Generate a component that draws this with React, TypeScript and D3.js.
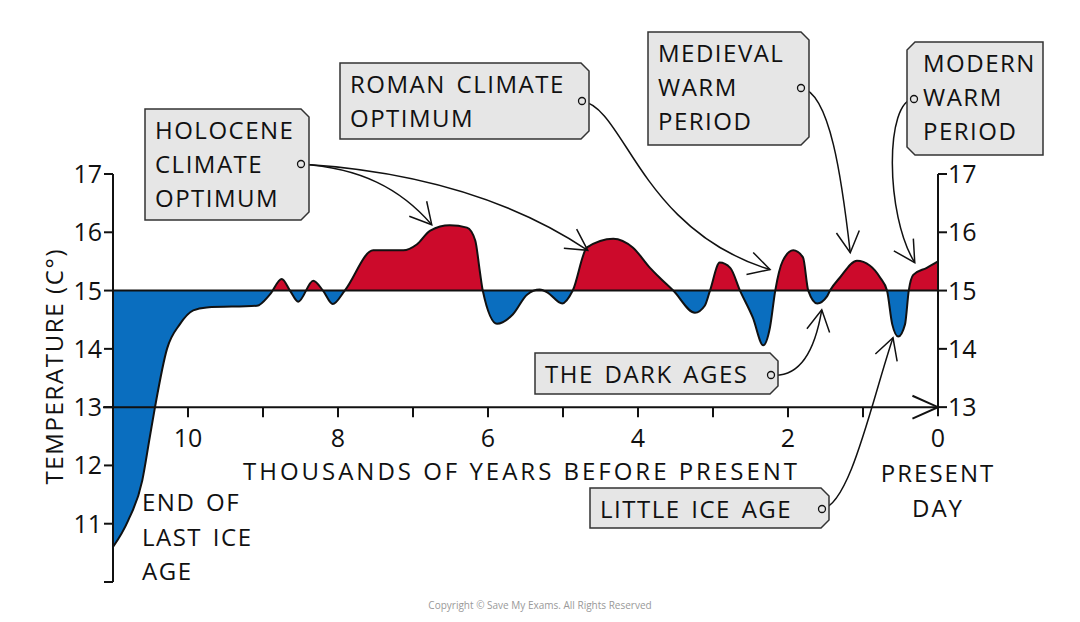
import * as d3 from "d3";

// thousands of years before present
const years = [
  11.0, 10.8, 10.61, 10.51, 10.44, 10.28, 10.11, 9.93, 9.75, 9.08, 8.91, 8.75, 8.64, 8.53, 8.33, 8.2, 8.07, 7.91,
  7.53, 7.13, 6.95, 6.77, 6.51, 6.28, 6.17, 6.11, 6.07, 5.88, 5.67, 5.48, 5.31, 5.21, 5.01, 4.87, 4.68, 4.33,
  4.07, 3.84, 3.71, 3.53, 3.24, 3.11, 3.04, 2.91, 2.77, 2.64, 2.47, 2.33, 2.24, 2.17, 2.07, 1.93, 1.8, 1.73,
  1.61, 1.48, 1.44, 1.31, 1.08, 0.91, 0.77, 0.68, 0.61, 0.53, 0.44, 0.39, 0.33, 0.15, 0.0,
];
// temperature (C)
const temps = [
  10.6, 11.05, 11.74, 12.48, 13.0, 14.0, 14.42, 14.66, 14.71, 14.74, 14.93, 15.2, 15.0, 14.81, 15.17, 15.0, 14.77, 15.0,
  15.69, 15.69, 15.79, 16.03, 16.12, 16.08, 15.86, 15.34, 15.0, 14.43, 14.59, 14.93, 15.02, 14.97, 14.78, 15.0, 15.74, 15.89,
  15.74, 15.39, 15.22, 15.0, 14.62, 14.74, 15.0, 15.48, 15.39, 15.0, 14.54, 14.06, 14.37, 15.0, 15.51, 15.69, 15.57, 15.0,
  14.78, 14.9, 15.0, 15.22, 15.51, 15.43, 15.22, 15.0, 14.42, 14.21, 14.42, 15.0, 15.27, 15.39, 15.5,
];

const xTicks = [10, 9, 8, 7, 6, 5, 4, 3, 2, 1];
const xTickLabels = [10, 8, 6, 4, 2, 0];
const leftTicks = [17, 16, 15, 14, 13, 12, 11];
const rightTicks = [17, 16, 15, 14, 13];
const baseline = 15;

// annotations: label box (pixels), arrow targets in data units
const notes = [
  { lines: ["HOLOCENE", "CLIMATE", "OPTIMUM"], box: [145, 109, 309, 220], side: "right", dot: [301, 164],
    arrows: [{ t: 6.75, T: 16.13, c1: [360, 168], c2: [400, 188] }, { t: 4.67, T: 15.69, c1: [430, 172], c2: [520, 205] }] },
  { lines: ["ROMAN CLIMATE", "OPTIMUM"], box: [340, 63, 589, 139], side: "right", dot: [582, 101],
    arrows: [{ t: 2.24, T: 15.36, c1: [625, 108], c2: [640, 230] }] },
  { lines: ["MEDIEVAL", "WARM", "PERIOD"], box: [648, 32, 809, 145], side: "right", dot: [801, 88],
    arrows: [{ t: 1.17, T: 15.65, c1: [830, 92], c2: [842, 180] }] },
  { lines: ["MODERN", "WARM", "PERIOD"], box: [907, 42, 1043, 155], side: "left", dot: [914, 99],
    arrows: [{ t: 0.31, T: 15.48, c1: [885, 100], c2: [885, 215] }] },
  { lines: ["THE DARK AGES"], box: [535, 353, 778, 394], side: "right", dot: [771, 375],
    arrows: [{ t: 1.55, T: 14.67, c1: [800, 378], c2: [815, 350] }] },
  { lines: ["LITTLE ICE AGE"], box: [590, 488, 829, 528], side: "right", dot: [822, 509],
    arrows: [{ t: 0.6, T: 14.19, c1: [850, 505], c2: [872, 400] }] },
];

const FONT = "'Open Sans', sans-serif";
const RED = "#cc0a2b";
const BLUE = "#0a6ebf";
const LS = 1.5; // letter spacing for label text
const WS = 3;

function tagPath([x0, y0, x1, y1], side, c = 8) {
  if (side === "left") {
    return `M${x0 + c},${y0}L${x1},${y0}L${x1},${y1}L${x0 + c},${y1}L${x0},${y1 - c}L${x0},${y0 + c}Z`;
  }
  return `M${x0},${y0}L${x1 - c},${y0}L${x1},${y0 + c}L${x1},${y1 - c}L${x1 - c},${y1}L${x0},${y1}Z`;
}

function arrowHead(tip, from, len = 24, ang = 0.5) {
  const a = Math.atan2(tip[1] - from[1], tip[0] - from[0]);
  const p1 = [tip[0] - len * Math.cos(a - ang), tip[1] - len * Math.sin(a - ang)];
  const p2 = [tip[0] - len * Math.cos(a + ang), tip[1] - len * Math.sin(a + ang)];
  return `M${p1[0]},${p1[1]}L${tip[0]},${tip[1]}L${p2[0]},${p2[1]}`;
}

export default function App() {
  const width = 1080;
  const height = 622;
  const x = d3.scaleLinear().domain([11, 0]).range([113, 938]);
  const y = d3.scaleLinear().domain([10, 17]).range([582, 174]);
  const data = years.map((t, i) => ({ t, T: temps[i] }));

  const area = d3
    .area()
    .x((d) => x(d.t))
    .y0(y(baseline))
    .y1((d) => y(d.T))
    .curve(d3.curveMonotoneX);
  const line = d3
    .line()
    .x((d) => x(d.t))
    .y((d) => y(d.T))
    .curve(d3.curveMonotoneX);

  const y15 = y(baseline);
  const y13 = y(13);
  const axisLeft = x(11);
  const axisRight = x(0);

  return (
    <svg
      width={width}
      height={height}
      style={{ position: "absolute", left: 0, top: 0, background: "#fff" }}
      fontFamily={FONT}
    >
      <defs>
        <clipPath id="above">
          <rect x={0} y={0} width={width} height={y15} />
        </clipPath>
        <clipPath id="below">
          <rect x={0} y={y15} width={width} height={height - y15} />
        </clipPath>
      </defs>

      {/* filled anomaly */}
      <path d={area(data)} fill={RED} clipPath="url(#above)" />
      <path d={area(data)} fill={BLUE} clipPath="url(#below)" />
      <path d={line(data)} fill="none" stroke="#111" strokeWidth={2} />
      <line x1={axisLeft} x2={axisRight} y1={y15} y2={y15} stroke="#111" strokeWidth={2} />

      {/* left axis */}
      <line x1={axisLeft} x2={axisLeft} y1={y(17)} y2={y(10)} stroke="#111" strokeWidth={2} />
      {[...leftTicks, 10].map((v) => (
        <g key={"l" + v} transform={`translate(${axisLeft},${y(v)})`}>
          <line x1={-9} x2={0} stroke="#111" strokeWidth={2} />
          {v !== 10 && (
            <text x={-11} dy="0.36em" textAnchor="end" fontSize={25} fill="#111">
              {v}
            </text>
          )}
        </g>
      ))}
      <text
        transform={`translate(63,367) rotate(-90)`}
        textAnchor="middle"
        fontSize={24}
        fill="#111"
        textLength={235}
        lengthAdjust="spacing"
      >
        TEMPERATURE (C°)
      </text>

      {/* right axis */}
      <line x1={axisRight} x2={axisRight} y1={y(17)} y2={y13 + 9} stroke="#111" strokeWidth={2} />
      {rightTicks.map((v) => (
        <g key={"r" + v} transform={`translate(${axisRight},${y(v)})`}>
          <line x1={0} x2={9} stroke="#111" strokeWidth={2} />
          <text x={10} dy="0.36em" textAnchor="start" fontSize={25} fill="#111">
            {v}
          </text>
        </g>
      ))}

      {/* bottom axis */}
      <line x1={103} x2={axisRight} y1={y13} y2={y13} stroke="#111" strokeWidth={2} />
      <path d={arrowHead([axisRight, y13], [axisRight - 10, y13], 28, 0.42)} fill="none" stroke="#111" strokeWidth={2} />
      {xTicks.map((t) => (
        <line key={"t" + t} x1={x(t)} x2={x(t)} y1={y13} y2={y13 + 10} stroke="#111" strokeWidth={2} />
      ))}
      {xTickLabels.map((t) => (
        <text key={"xl" + t} x={x(t)} y={y13 + 40} textAnchor="middle" fontSize={25} fill="#111">
          {t}
        </text>
      ))}
      <text x={520} y={480} textAnchor="middle" fontSize={24} fill="#111" textLength={554} lengthAdjust="spacing">
        THOUSANDS OF YEARS BEFORE PRESENT
      </text>
      <text x={axisRight} textAnchor="middle" fontSize={24} fill="#111" letterSpacing={2}>
        <tspan x={axisRight} y={482}>PRESENT</tspan>
        <tspan x={axisRight} y={517}>DAY</tspan>
      </text>
      <text fontSize={24} fill="#111" letterSpacing={LS} wordSpacing={WS}>
        <tspan x={142} y={511}>END OF</tspan>
        <tspan x={142} y={546}>LAST ICE</tspan>
        <tspan x={142} y={580}>AGE</tspan>
      </text>

      {/* annotations */}
      {notes.map((n, i) => {
        const [x0, y0] = n.box;
        const padX = n.side === "left" ? 16 : 10;
        return (
          <g key={"n" + i}>
            {n.arrows.map((a, j) => {
              const tip = [x(a.t), y(a.T)];
              return (
                <g key={j} fill="none" stroke="#111" strokeWidth={1.5}>
                  <path d={`M${n.dot[0]},${n.dot[1]}C${a.c1[0]},${a.c1[1]} ${a.c2[0]},${a.c2[1]} ${tip[0]},${tip[1]}`} />
                  <path d={arrowHead(tip, a.c2)} />
                </g>
              );
            })}
            <path d={tagPath(n.box, n.side)} fill="#e6e6e6" stroke="#333" strokeWidth={1.5} />
            <text fontSize={24} fill="#111" letterSpacing={LS} wordSpacing={WS}>
              {n.lines.map((s, k) => (
                <tspan key={k} x={x0 + padX} y={y0 + 30 + k * 34}>
                  {s}
                </tspan>
              ))}
            </text>
            <circle cx={n.dot[0]} cy={n.dot[1]} r={3.5} fill="#e6e6e6" stroke="#111" strokeWidth={1.3} />
          </g>
        );
      })}

      <text x={540} y={609} textAnchor="middle" fontSize={10} fill="#999">
        Copyright © Save My Exams. All Rights Reserved
      </text>
    </svg>
  );
}
